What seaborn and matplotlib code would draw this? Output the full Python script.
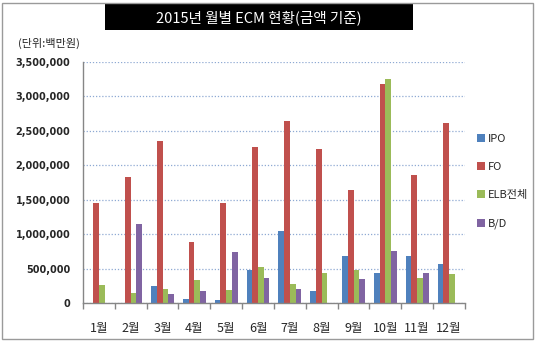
import matplotlib
matplotlib.use("Agg")
import matplotlib.pyplot as plt
from matplotlib.patches import Rectangle
from matplotlib.ticker import FuncFormatter, MultipleLocator
import pandas as pd
import seaborn as sns

months = ["1월", "2월", "3월", "4월", "5월", "6월", "7월", "8월", "9월", "10월", "11월", "12월"]
series_names = ["IPO", "FO", "ELB전체", "B/D"]
ipo = [0, 0, 247000, 58000, 44000, 479000, 1040000, 174000, 687000, 435000, 687000, 566000]
fo = [1452000, 1830000, 2353000, 886000, 1452000, 2265000, 2638000, 2236000, 1641000, 3185000, 1858000, 2614000]
elb = [261000, 150000, 203000, 334000, 190000, 523000, 276000, 435000, 479000, 3253000, 363000, 421000]
bd = [0, 1147000, 131000, 174000, 740000, 363000, 203000, 0, 348000, 755000, 435000, 0]
colors = ["#4F81BD", "#C0504D", "#9BBB59", "#8064A2"]

df = pd.DataFrame({
    "월": months * 4,
    "구분": [s for s in series_names for _ in months],
    "금액": ipo + fo + elb + bd,
})

sns.set_theme(style="white")
plt.rcParams["font.family"] = ["Noto Sans CJK KR", "DejaVu Sans"]

fig = plt.figure(figsize=(5.35, 3.41), dpi=100)
ax = fig.add_axes([0.155, 0.1114, 0.714, 0.707])

sns.barplot(data=df, x="월", y="금액", hue="구분", order=months, hue_order=series_names,
            palette=colors, width=0.72, saturation=1, ax=ax, legend=True, linewidth=0)

ax.set_ylim(0, 3500000)
ax.set_xlim(-0.5, 11.5)
ax.yaxis.set_major_locator(MultipleLocator(500000))
ax.yaxis.set_major_formatter(FuncFormatter(lambda v, p: f"{int(v):,}"))
ax.grid(axis="y", color="#8EA9D3", linestyle=(0, (1, 1.5)), linewidth=0.9)
ax.set_axisbelow(True)
ax.set_xlabel("")
ax.set_ylabel("")
for s in ["top", "right"]:
    ax.spines[s].set_visible(False)
for s in ["left", "bottom"]:
    ax.spines[s].set_color("#868686")
    ax.spines[s].set_linewidth(1)

# category boundary ticks under the x axis
ax.set_xticks([i - 0.5 for i in range(13)], minor=True)
ax.tick_params(axis="x", which="minor", length=4, color="#868686", width=1, direction="out")
ax.tick_params(axis="x", which="major", length=0, pad=14, labelsize=9)
ax.tick_params(axis="y", length=3, color="#868686", width=1, direction="out", labelsize=7.5, pad=6)
ax.tick_params(axis="x", bottom=True, which="both")
for lab in ax.get_yticklabels():
    lab.set_fontweight("bold")
    lab.set_family("DejaVu Sans")
    lab.set_fontsize(7)

leg = ax.legend(loc="center left", bbox_to_anchor=(1.005, 0.505), frameon=False,
                fontsize=8, handlelength=0.7, handleheight=0.7, handletextpad=0.3,
                labelspacing=1.65)

# title banner
fig.patches.append(Rectangle((105 / 535, 1 - 30 / 341), 308 / 535, 26 / 341,
                             transform=fig.transFigure, facecolor="black", edgecolor="none"))
fig.text(259 / 535, 1 - 17.5 / 341, "2015년 월별 ECM 현황(금액 기준)", color="white",
         fontsize=10.5, ha="center", va="center")
fig.text(18 / 535, 1 - 43 / 341, "(단위:백만원)", fontsize=8, ha="left", va="center")

# outer frame
fig.patches.append(Rectangle((2 / 535, 2 / 341), 531 / 535, 336 / 341,
                             transform=fig.transFigure, facecolor="none",
                             edgecolor="#9A9A9A", linewidth=1))

fig.savefig("out.png", dpi=100)
